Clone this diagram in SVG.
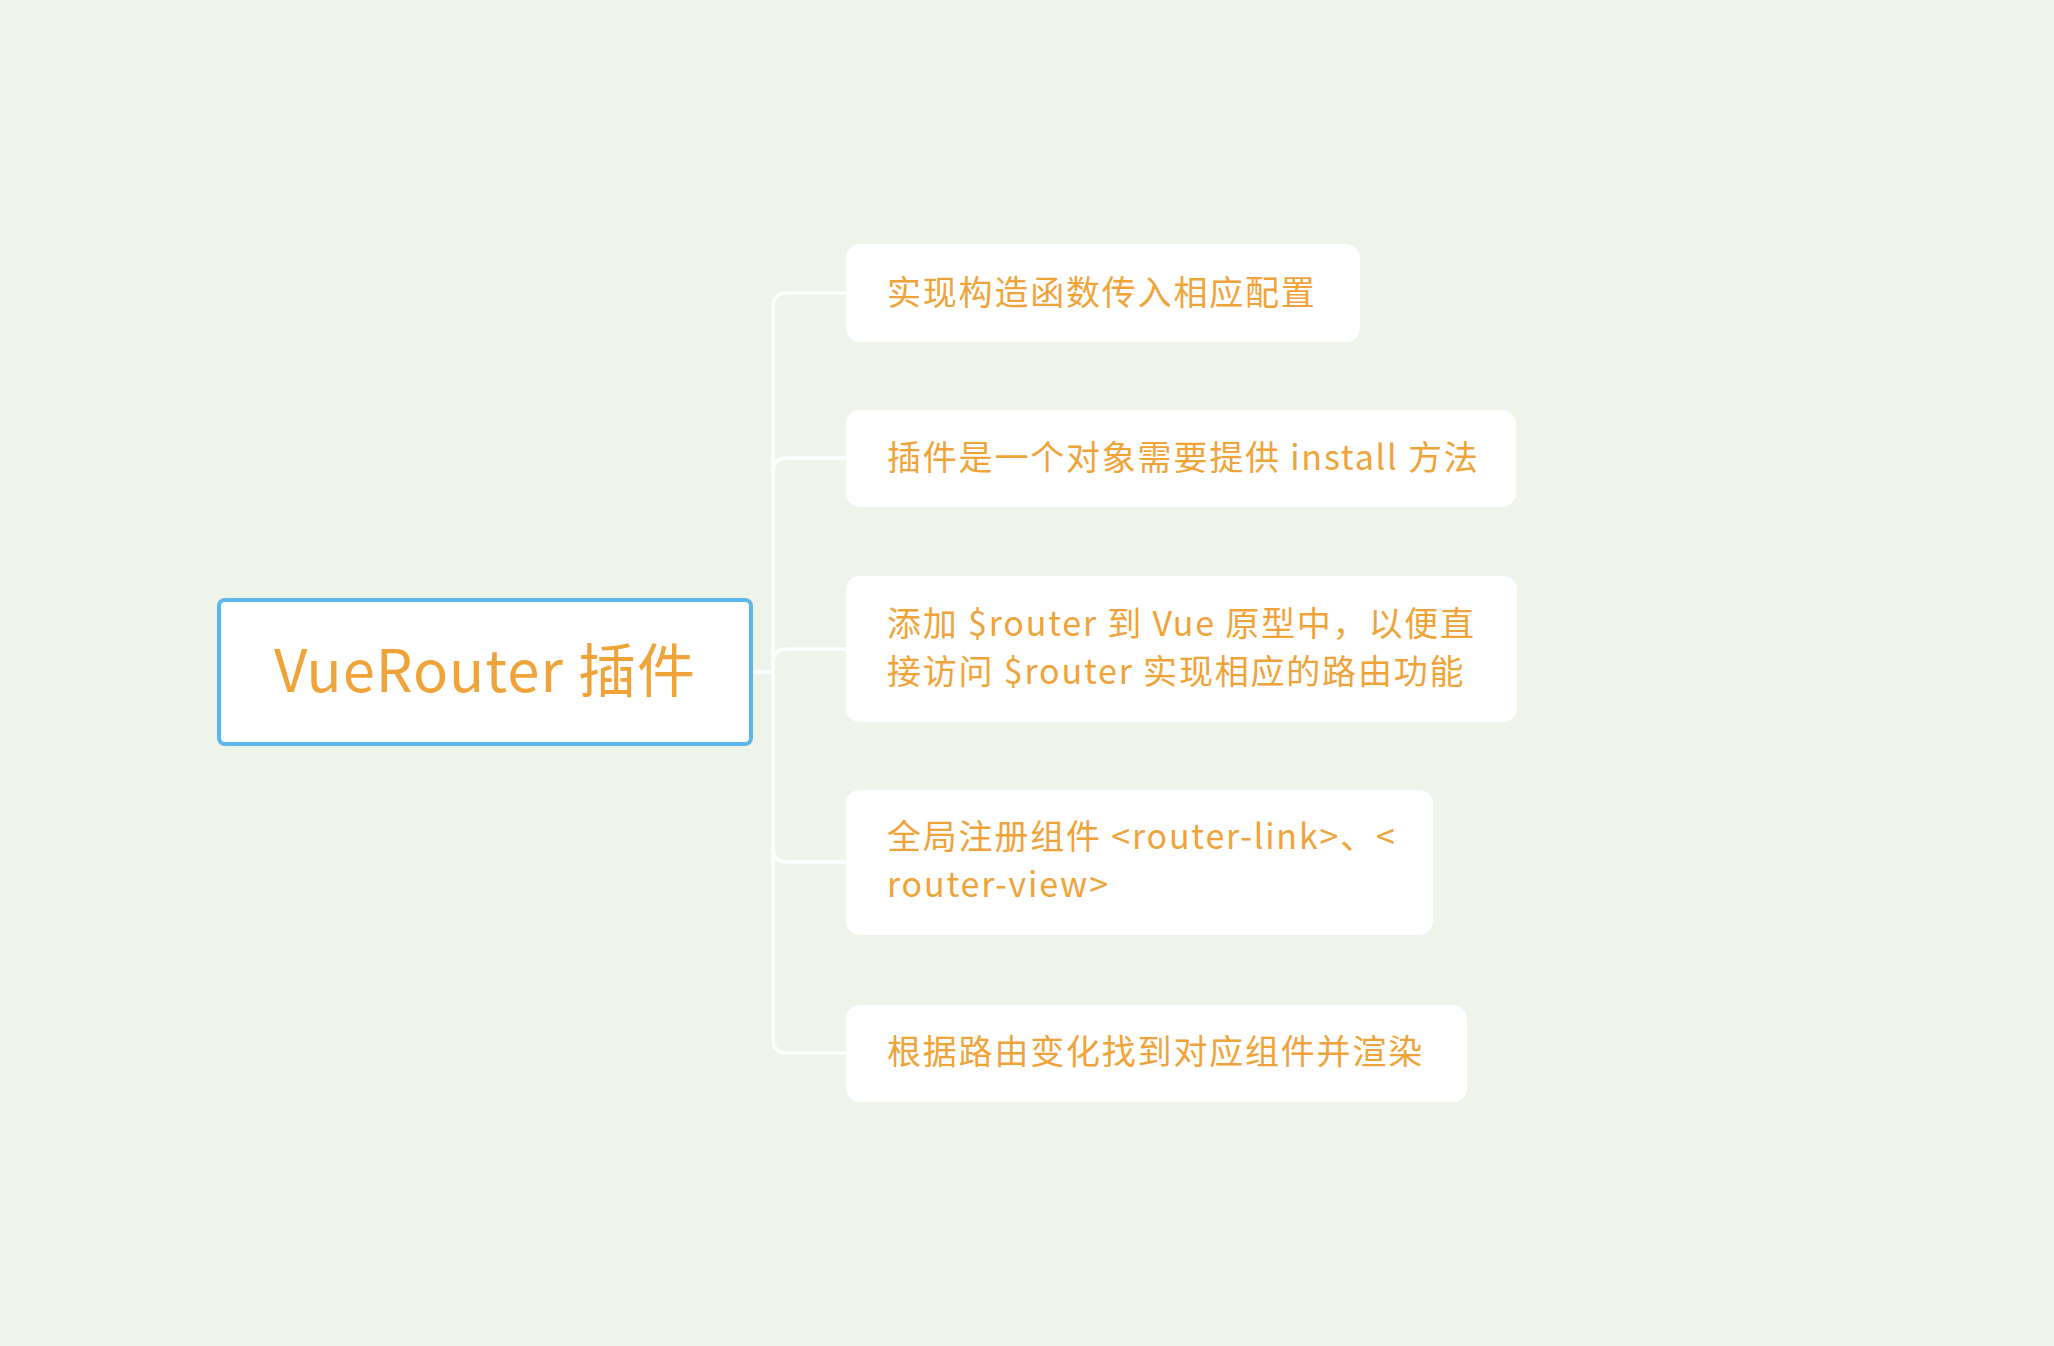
<svg xmlns="http://www.w3.org/2000/svg" width="2054" height="1346" viewBox="0 0 2054 1346">
<style>
.n{fill:#fff}
.t{fill:#f0a338;font-family:"Noto Sans CJK SC","Noto Sans",sans-serif;font-size:34px;letter-spacing:1.8px}
.c{fill:none;stroke:#fff;stroke-width:3.5}
</style>
<rect width="2054" height="1346" fill="#eef4e9"/>
<g id="connectors">
<path class="c" d="M751 672 H773"/>
<path class="c" d="M846 293 H787 Q773 293 773 307 V1039 Q773 1053 787 1053 H846"/>
<path class="c" d="M846 458 H787 Q773 458 773 472"/>
<path class="c" d="M846 649 H787 Q773 649 773 663"/>
<path class="c" d="M846 862 H787 Q773 862 773 848"/>
</g>
<g id="root">
<rect x="219" y="600" width="532" height="144" rx="6" fill="#fff" stroke="#5cb6ee" stroke-width="4"/>
<text class="t" x="485" y="692" text-anchor="middle" style="font-size:58px;letter-spacing:1px">VueRouter 插件</text>
</g>
<g id="n1"><rect class="n" x="846" y="244" width="514" height="98" rx="14"/><text class="t" x="887" y="305">实现构造函数传入相应配置</text></g>
<g id="n2"><rect class="n" x="846" y="410" width="670" height="97" rx="14"/><text class="t" x="887" y="470">插件是一个对象需要提供 install 方法</text></g>
<g id="n3"><rect class="n" x="846" y="576" width="671" height="146" rx="14"/><text class="t" x="887" y="636">添加 $router 到 Vue 原型中，以便直</text><text class="t" x="887" y="684">接访问 $router 实现相应的路由功能</text></g>
<g id="n4"><rect class="n" x="846" y="790" width="587" height="145" rx="14"/><text class="t" x="887" y="849">全局注册组件 &lt;router-link&gt;、&lt;</text><text class="t" x="887" y="897">router-view&gt;</text></g>
<g id="n5"><rect class="n" x="846" y="1005" width="621" height="97" rx="14"/><text class="t" x="887" y="1064">根据路由变化找到对应组件并渲染</text></g>
</svg>
